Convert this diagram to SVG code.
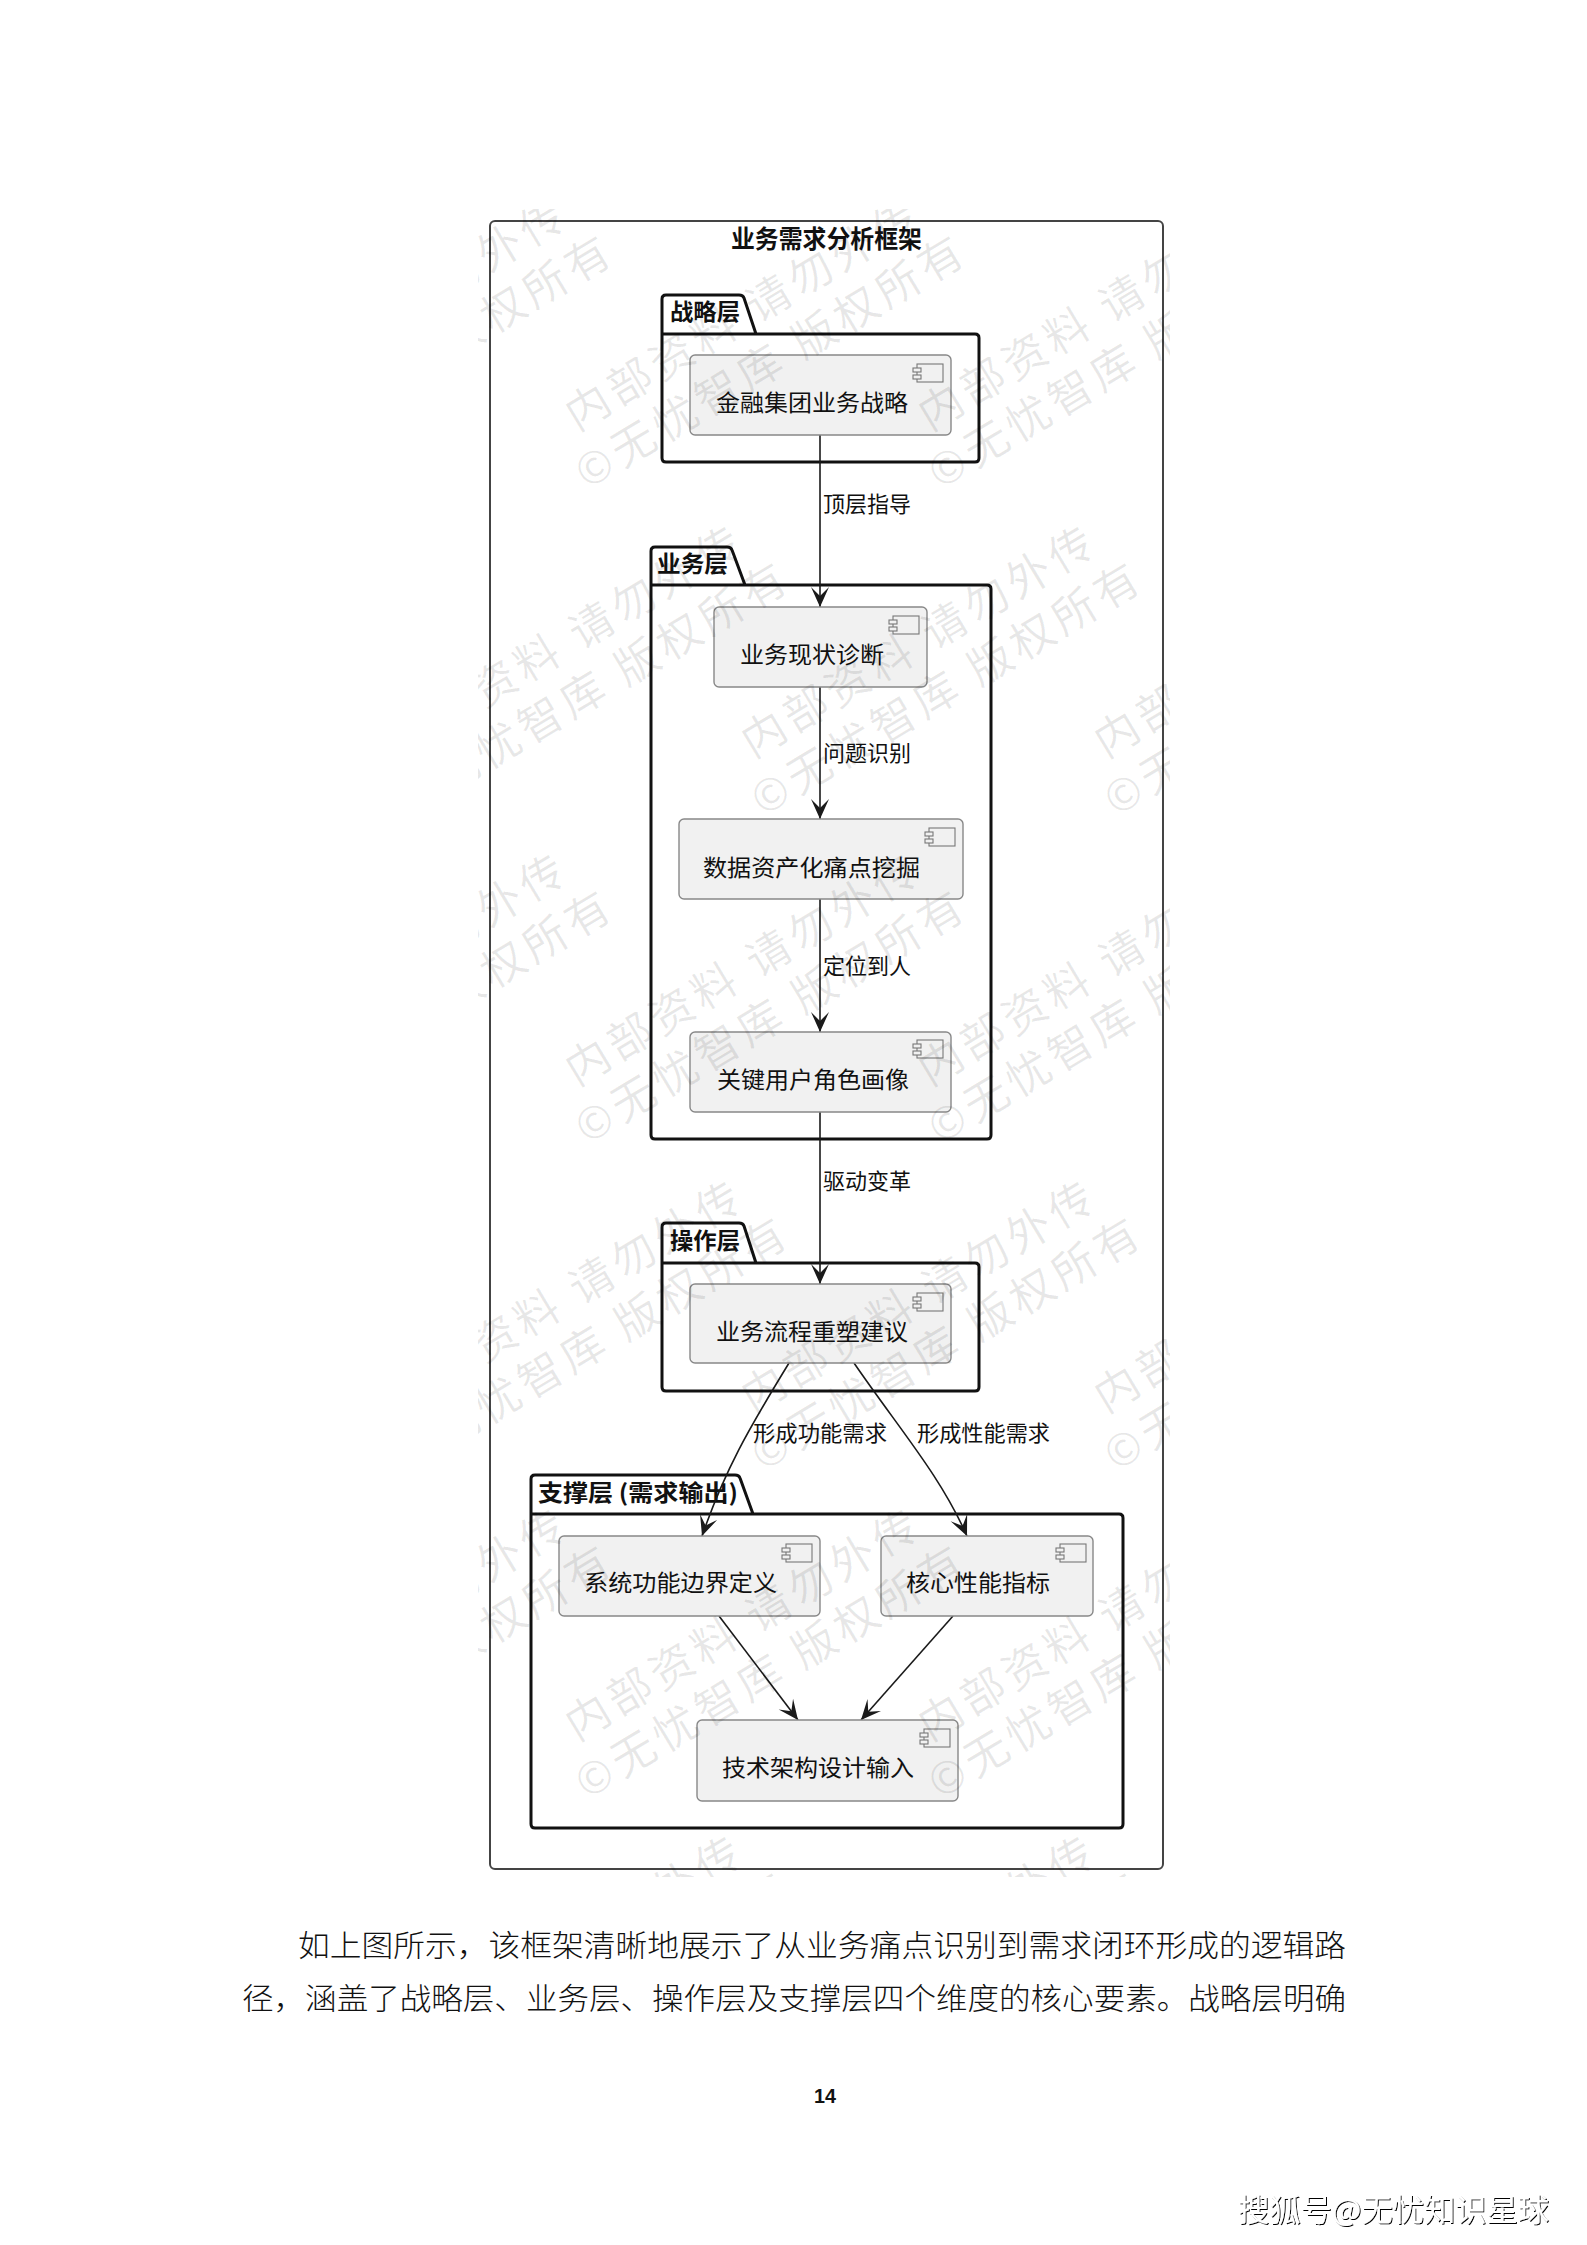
<svg xmlns="http://www.w3.org/2000/svg" xmlns:xlink="http://www.w3.org/1999/xlink" width="1587" height="2245" viewBox="0 0 1587 2245">
<style>
text{font-family:"Noto Sans CJK SC","Liberation Sans",sans-serif;fill:#111}
.frame{fill:#fff;stroke:#444;stroke-width:2}
.pkg{fill:none;stroke:#111;stroke-width:3;stroke-linejoin:round}
.node{fill:#f1f1f1;stroke:#888;stroke-width:1.4}
.ic{fill:#f1f1f1;stroke:#777;stroke-width:1.1}
.nt{font-size:23px}
.lb{font-size:22px}
.pt{font-size:23px;font-weight:700}
.edge{fill:none;stroke:#1a1a1a;stroke-width:1.6;marker-end:url(#arr)}
.body{font-size:30px;font-weight:300;fill:#111}
.wm{font-size:44px;letter-spacing:5px;fill:#000;fill-opacity:.09}
</style>
<defs>
<marker id="arr" markerUnits="userSpaceOnUse" markerWidth="24" markerHeight="22" refX="21" refY="11" orient="auto"><path d="M21,11 L1,2 L10,11 L1,20 Z" fill="#1a1a1a"/></marker>
<g id="icon"><rect class="ic" x="4" y="0" width="26" height="18"/><rect class="ic" x="0" y="4" width="8" height="4"/><rect class="ic" x="0" y="11" width="8" height="4"/></g>
<g id="wmt"><text class="wm" transform="translate(-14,24) rotate(-31)">内部资料 请勿外传</text><text class="wm" transform="translate(-4,82) rotate(-31)">©无忧智库 版权所有</text></g>
<clipPath id="wc"><rect x="478" y="209" width="692" height="1668"/></clipPath>
<filter id="emb" x="-5%" y="-20%" width="110%" height="140%"><feDropShadow dx="1" dy="1" stdDeviation="0.2" flood-color="#000"/></filter>
</defs>
<rect width="1587" height="2245" fill="#fff"/>
<g id="frame"><rect class="frame" x="490" y="221" width="673" height="1648" rx="5"/>
<text x="731" y="248" font-size="25" font-weight="700" textLength="191" lengthAdjust="spacingAndGlyphs">业务需求分析框架</text></g>

<g id="pkg-strategy"><path class="pkg" d="M662,334 V299 Q662,295 666,295 H739 Q743,295 744,298 L756,334 H975 Q979,334 979,338 V458 Q979,462 975,462 H666 Q662,462 662,458 Z M662,334 H756"/><text class="pt" x="670" y="320" textLength="70" lengthAdjust="spacingAndGlyphs">战略层</text></g>
<g id="pkg-business"><path class="pkg" d="M651,585 V551 Q651,547 655,547 H727 Q731,547 732,550 L745,585 H987 Q991,585 991,589 V1135 Q991,1139 987,1139 H655 Q651,1139 651,1135 Z M651,585 H745"/><text class="pt" x="657" y="572" textLength="71" lengthAdjust="spacingAndGlyphs">业务层</text></g>
<g id="pkg-operation"><path class="pkg" d="M662,1263 V1227 Q662,1223 666,1223 H739 Q743,1223 744,1226 L756,1263 H975 Q979,1263 979,1267 V1387 Q979,1391 975,1391 H666 Q662,1391 662,1387 Z M662,1263 H756"/><text class="pt" x="670" y="1249" textLength="70" lengthAdjust="spacingAndGlyphs">操作层</text></g>
<g id="pkg-support"><path class="pkg" d="M531,1514 V1479 Q531,1475 535,1475 H735 Q739,1475 740,1478 L753,1514 H1119 Q1123,1514 1123,1518 V1824 Q1123,1828 1119,1828 H535 Q531,1828 531,1824 Z M531,1514 H753"/><text class="pt" x="538" y="1501" textLength="200" lengthAdjust="spacingAndGlyphs">支撑层 (需求输出)</text></g>

<g id="connectors">
<path class="edge" d="M820,435 V607"/>
<path class="edge" d="M820,687 V819"/>
<path class="edge" d="M820,899 V1032"/>
<path class="edge" d="M820,1112 V1284"/>
<path class="edge" d="M789,1363 C748,1430 725,1470 702,1536"/>
<path class="edge" d="M854,1363 C900,1430 940,1475 967,1536"/>
<path class="edge" d="M719,1616 L798,1720"/>
<path class="edge" d="M953,1616 L861,1720"/>
<text class="lb" x="823" y="512" textLength="88" lengthAdjust="spacingAndGlyphs">顶层指导</text>
<text class="lb" x="823" y="761" textLength="88" lengthAdjust="spacingAndGlyphs">问题识别</text>
<text class="lb" x="823" y="974" textLength="88" lengthAdjust="spacingAndGlyphs">定位到人</text>
<text class="lb" x="823" y="1189" textLength="88" lengthAdjust="spacingAndGlyphs">驱动变革</text>
<text class="lb" x="753" y="1441" textLength="134" lengthAdjust="spacingAndGlyphs">形成功能需求</text>
<text class="lb" x="917" y="1441" textLength="133" lengthAdjust="spacingAndGlyphs">形成性能需求</text>
</g>

<g id="n1"><rect class="node" x="690" y="355" width="261" height="80" rx="5"/><use href="#icon" x="913" y="364"/><text class="nt" x="716" y="411" textLength="192" lengthAdjust="spacingAndGlyphs">金融集团业务战略</text></g>
<g id="n2"><rect class="node" x="714" y="607" width="213" height="80" rx="5"/><use href="#icon" x="889" y="616"/><text class="nt" x="740" y="663" textLength="144" lengthAdjust="spacingAndGlyphs">业务现状诊断</text></g>
<g id="n3"><rect class="node" x="679" y="819" width="284" height="80" rx="5"/><use href="#icon" x="925" y="828"/><text class="nt" x="703" y="876" textLength="217" lengthAdjust="spacingAndGlyphs">数据资产化痛点挖掘</text></g>
<g id="n4"><rect class="node" x="690" y="1032" width="261" height="80" rx="5"/><use href="#icon" x="913" y="1040"/><text class="nt" x="717" y="1088" textLength="192" lengthAdjust="spacingAndGlyphs">关键用户角色画像</text></g>
<g id="n5"><rect class="node" x="690" y="1284" width="261" height="79" rx="5"/><use href="#icon" x="913" y="1293"/><text class="nt" x="716" y="1340" textLength="192" lengthAdjust="spacingAndGlyphs">业务流程重塑建议</text></g>
<g id="n6"><rect class="node" x="559" y="1536" width="261" height="80" rx="5"/><use href="#icon" x="782" y="1544"/><text class="nt" x="584" y="1591" textLength="193" lengthAdjust="spacingAndGlyphs">系统功能边界定义</text></g>
<g id="n7"><rect class="node" x="881" y="1536" width="212" height="80" rx="5"/><use href="#icon" x="1056" y="1544"/><text class="nt" x="906" y="1591" textLength="144" lengthAdjust="spacingAndGlyphs">核心性能指标</text></g>
<g id="n8"><rect class="node" x="697" y="1720" width="261" height="81" rx="5"/><use href="#icon" x="920" y="1729"/><text class="nt" x="722" y="1776" textLength="192" lengthAdjust="spacingAndGlyphs">技术架构设计输入</text></g>

<g id="watermark" clip-path="url(#wc)">
<use href="#wmt" x="591" y="408"/><use href="#wmt" x="238" y="408"/><use href="#wmt" x="944" y="408"/>
<use href="#wmt" x="414" y="735"/><use href="#wmt" x="767" y="735"/><use href="#wmt" x="1120" y="735"/>
<use href="#wmt" x="591" y="1063"/><use href="#wmt" x="238" y="1063"/><use href="#wmt" x="944" y="1063"/>
<use href="#wmt" x="414" y="1390"/><use href="#wmt" x="767" y="1390"/><use href="#wmt" x="1120" y="1390"/>
<use href="#wmt" x="591" y="1718"/><use href="#wmt" x="238" y="1718"/><use href="#wmt" x="944" y="1718"/>
<use href="#wmt" x="414" y="2045"/><use href="#wmt" x="767" y="2045"/>
</g>

<g id="page">
<text class="body" x="298" y="1956" textLength="1048" lengthAdjust="spacingAndGlyphs">如上图所示，该框架清晰地展示了从业务痛点识别到需求闭环形成的逻辑路</text>
<text class="body" x="242" y="2009" textLength="1104" lengthAdjust="spacingAndGlyphs">径，涵盖了战略层、业务层、操作层及支撑层四个维度的核心要素。战略层明确</text>
<text x="814" y="2103" font-size="20" font-weight="700" textLength="22" lengthAdjust="spacingAndGlyphs" style="font-family:'Liberation Sans',sans-serif">14</text>
<text x="1238" y="2221" font-size="31" textLength="311" lengthAdjust="spacingAndGlyphs" filter="url(#emb)" style="fill:#fff">搜狐号@无忧知识星球</text>
</g>
</svg>
